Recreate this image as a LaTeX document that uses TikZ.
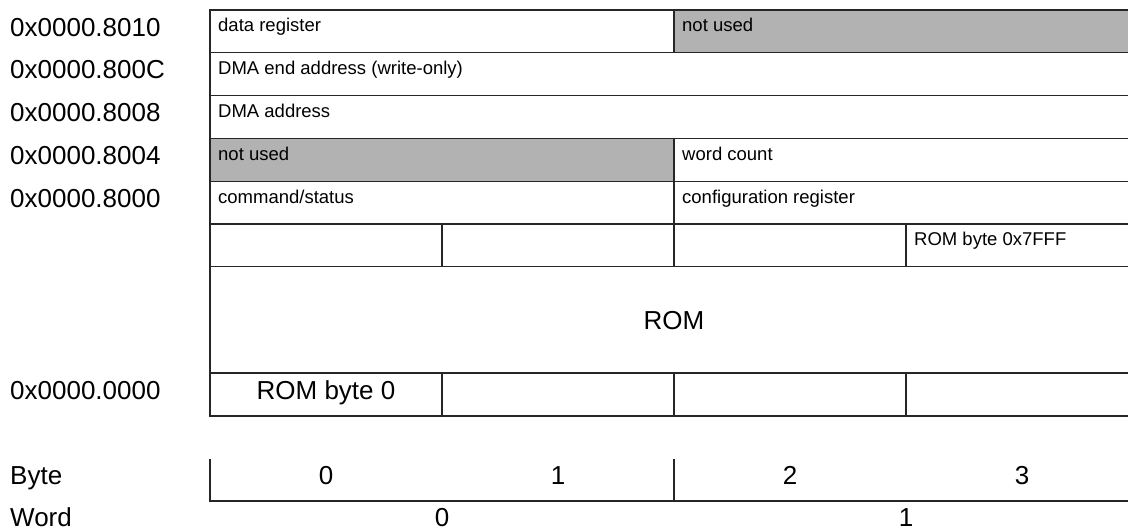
\documentclass[tikz,border=0pt]{standalone}
\usepackage{fontspec}
\setmainfont{Liberation Sans}
\begin{document}
\begin{tikzpicture}[x=1pt,y=-1pt,
  cell/.style={draw=black!85, line width=1.2pt, minimum height=42.8pt, inner sep=0pt, outer sep=0pt, anchor=north west},
  unused/.style={cell, fill=black!30},
  small/.style={font=\fontsize{18.5}{22}\selectfont, inner sep=0pt, anchor=base west},
  big/.style={font=\fontsize{26}{30}\selectfont, inner sep=0pt, anchor=base west},
  bigc/.style={font=\fontsize{26}{30}\selectfont, inner sep=0pt, anchor=base},
  axis/.style={draw=black!85, line width=1.2pt}]
\useasboundingbox (0,0) rectangle (1128,529);
\clip (0,0) rectangle (1128,529);
% row 1
\node[cell, minimum width=464pt] (c1a) at (210,10) {};
\node[unused, minimum width=464pt] (c1b) at (674,10) {};
\node[small] (t1a) at ([xshift=8pt,yshift=-22pt]c1a.north west) {data register};
\node[small] (t1b) at ([xshift=8pt,yshift=-22pt]c1b.north west) {not used};
% row 2
\node[cell, minimum width=928pt] (c2) at (210,52.8) {};
\node[small] (t2) at ([xshift=8pt,yshift=-22pt]c2.north west) {DMA end address (write-only)};
% row 3
\node[cell, minimum width=928pt] (c3) at (210,95.6) {};
\node[small] (t3) at ([xshift=8pt,yshift=-22pt]c3.north west) {DMA address};
% row 4
\node[unused, minimum width=464pt] (c4a) at (210,138.4) {};
\node[cell, minimum width=464pt] (c4b) at (674,138.4) {};
\node[small] (t4a) at ([xshift=8pt,yshift=-22pt]c4a.north west) {not used};
\node[small] (t4b) at ([xshift=8pt,yshift=-22pt]c4b.north west) {word count};
% row 5
\node[cell, minimum width=464pt] (c5a) at (210,181.2) {};
\node[cell, minimum width=464pt] (c5b) at (674,181.2) {};
\node[small] (t5a) at ([xshift=8pt,yshift=-22pt]c5a.north west) {command/status};
\node[small] (t5b) at ([xshift=8pt,yshift=-22pt]c5b.north west) {configuration register};
% row 6
\node[cell, minimum width=232pt] (c6a) at (210,224) {};
\node[cell, minimum width=232pt] (c6b) at (442,224) {};
\node[cell, minimum width=232pt] (c6c) at (674,224) {};
\node[cell, minimum width=232pt] (c6d) at (906,224) {};
\node[small] (t6d) at ([xshift=8pt,yshift=-22pt]c6d.north west) {ROM byte 0x7FFF};
% ROM
\node[cell, minimum width=928pt, minimum height=106.2pt] (c7) at (210,266.8) {};
\node[bigc] (t7) at (674,329.3) {ROM};
% row 8
\node[cell, minimum width=232pt, minimum height=43pt] (c8a) at (210,373) {};
\node[cell, minimum width=232pt, minimum height=43pt] (c8b) at (442,373) {};
\node[cell, minimum width=232pt, minimum height=43pt] (c8c) at (674,373) {};
\node[cell, minimum width=232pt, minimum height=43pt] (c8d) at (906,373) {};
\node[bigc] (t8a) at (326,399.5) {ROM byte 0};
% addresses
\node[big] (a1) at (10,36.2) {0x0000.8010};
\node[big] (a2) at (10,79) {0x0000.800C};
\node[big] (a3) at (10,121.8) {0x0000.8008};
\node[big] (a4) at (10,164.6) {0x0000.8004};
\node[big] (a5) at (10,207.4) {0x0000.8000};
\node[big] (a6) at (10,399.3) {0x0000.0000};
% axis
\node[big] (lbyte) at (10,484) {Byte};
\node[big] (lword) at (10,526) {Word};
\coordinate (b0t) at (210,459);
\coordinate (b0b) at (210,501);
\coordinate (b2t) at (674,459);
\coordinate (b2b) at (674,501);
\coordinate (bend) at (1128,501);
\draw[axis] (b0t) -- (b0b) -- (bend);
\draw[axis] (b2t) -- (b2b);
\node[bigc] (y0) at (326,484) {0};
\node[bigc] (y1) at (558,484) {1};
\node[bigc] (y2) at (790,484) {2};
\node[bigc] (y3) at (1022,484) {3};
\node[bigc] (w0) at (442,526) {0};
\node[bigc] (w1) at (906,526) {1};
\end{tikzpicture}
\end{document}
